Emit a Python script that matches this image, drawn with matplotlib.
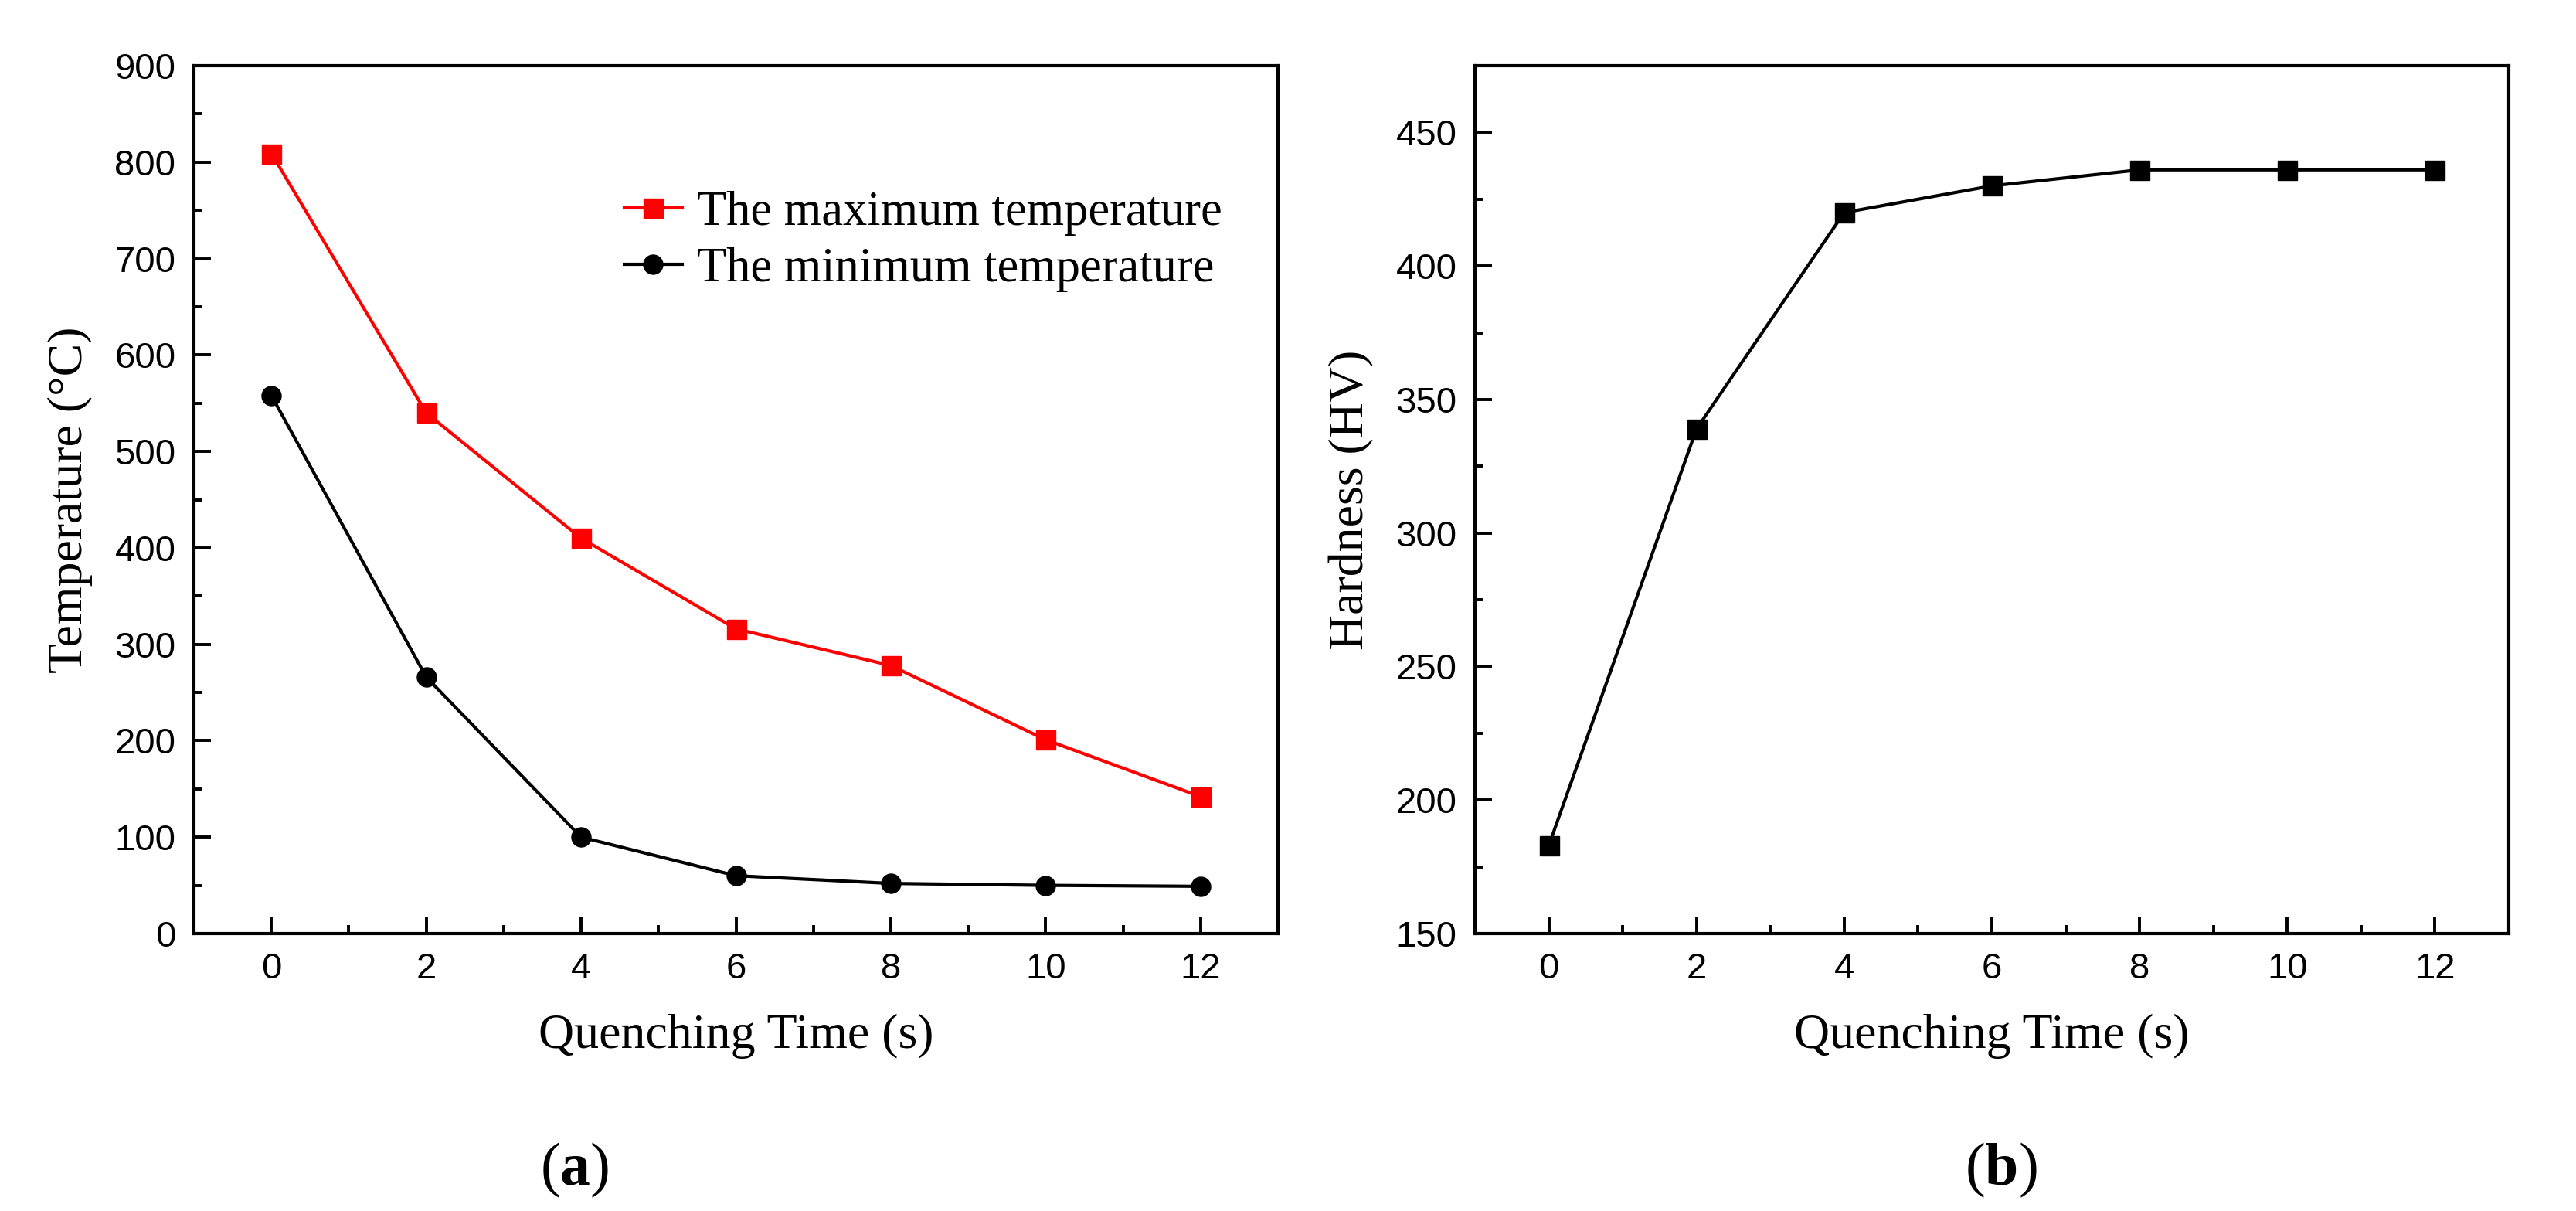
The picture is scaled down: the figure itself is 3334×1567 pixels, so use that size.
import matplotlib
matplotlib.use('Agg')
import matplotlib.pyplot as plt
from matplotlib.ticker import MultipleLocator

# quenching time (s)
time_s = [0, 2, 4, 6, 8, 10, 12]
t_max = [809, 540, 410, 316, 278, 201, 142]
t_min = [558, 266, 100, 60, 52, 50, 49]
hardness = [183, 339, 420, 430, 436, 436, 436]

plt.rcParams['mathtext.fontset'] = 'custom'
plt.rcParams['mathtext.rm'] = 'Liberation Serif'
plt.rcParams['mathtext.bf'] = 'Liberation Serif:bold'

serif = 'Liberation Serif'
sans = 'Liberation Sans'

fig = plt.figure(figsize=(33.34, 15.67), dpi=100)
ax1 = fig.add_axes([251/3334, 1 - 1208/1567, 1403/3334, 1123/1567])
ax2 = fig.add_axes([1909/3334, 1 - 1208/1567, 1338/3334, 1123/1567])

ax1.plot(time_s, t_max, color='red', lw=3, marker='s', ms=18,
         label='The maximum temperature')
ax1.plot(time_s, t_min, color='black', lw=3, marker='o', ms=18,
         label='The minimum temperature')
ax2.plot(time_s, hardness, color='black', lw=3, marker='s', ms=18)

ax1.set_ylim(0, 900)
ax1.yaxis.set_major_locator(MultipleLocator(100))
ax1.yaxis.set_minor_locator(MultipleLocator(50))
ax2.set_ylim(150, 475)
ax2.yaxis.set_major_locator(MultipleLocator(50))
ax2.yaxis.set_minor_locator(MultipleLocator(25))

for ax in (ax1, ax2):
    ax.set_xlim(-1, 13)
    ax.xaxis.set_major_locator(MultipleLocator(2))
    ax.xaxis.set_minor_locator(MultipleLocator(1))
    for s in ax.spines.values():
        s.set_linewidth(3)
    ax.tick_params(which='both', direction='in', top=False, right=False, width=2.8)
    ax.tick_params(which='major', length=16, labelsize=34, pad=17)
    ax.tick_params(which='minor', length=8)
    for lab in ax.get_xticklabels() + ax.get_yticklabels():
        lab.set_fontfamily(sans)
    ax.set_xlabel('Quenching Time (s)', fontsize=46, family=serif, labelpad=26)

ax1.set_ylabel('Temperature (°C)', fontsize=46, family=serif, labelpad=20)
ax2.set_ylabel('Hardness (HV)', fontsize=46, family=serif, labelpad=20)

ax1.legend(loc='upper left', bbox_to_anchor=(0.397, 0.856), frameon=False,
           prop={'family': serif, 'size': 45}, handlelength=1.2,
           handletextpad=0.3, labelspacing=0.25, borderpad=0, borderaxespad=0)

fig.text(744/3334, 1 - 1514/1567, r'($\mathbf{a}$)', fontsize=56, ha='center', va='center', family=serif)
fig.text(2590/3334, 1 - 1514/1567, r'($\mathbf{b}$)', fontsize=56, ha='center', va='center', family=serif)

fig.savefig('out.png', dpi=100, facecolor='white')
